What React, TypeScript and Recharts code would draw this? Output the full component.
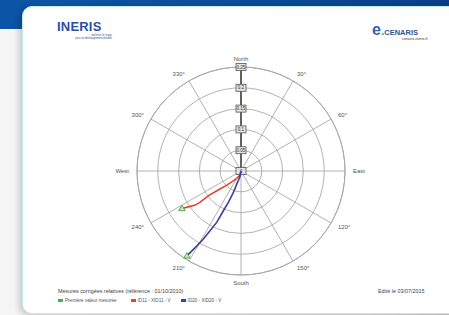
import React from 'react';
import {
  RadarChart, Radar, PolarGrid, PolarAngleAxis, PolarRadiusAxis,
  ScatterChart, Scatter, XAxis, YAxis,
} from 'recharts';

// compass directions, clockwise from north
const directions = ['North', '30°', '60°', 'East', '120°', '150°', 'South', '210°', '240°', 'West', '300°', '330°'];
const radiusTicks = [0, 0.05, 0.1, 0.15, 0.2, 0.25];

// relative displacement (east, north) for each point
const id11East = [0, -0.003, -0.014, -0.034, -0.054, -0.078, -0.098, -0.110, -0.122, -0.142];
const id11North = [0, -0.011, -0.021, -0.034, -0.045, -0.059, -0.075, -0.082, -0.085, -0.090];
const id20East = [0, -0.003, -0.010, -0.018, -0.030, -0.042, -0.058, -0.074, -0.090, -0.106, -0.118, -0.130];
const id20North = [0, -0.015, -0.031, -0.051, -0.075, -0.095, -0.123, -0.143, -0.163, -0.180, -0.192, -0.204];

const W = 449;
const H = 315;
const CX = 241;
const CY = 171;
const R = 104;
const FONT = '"Liberation Sans", Arial, sans-serif';

const gridData = directions.map((d) => ({ dir: d, zero: 0 }));
const id11 = id11East.map((e, i) => ({ x: e, y: id11North[i] }));
const id20 = id20East.map((e, i) => ({ x: e, y: id20North[i] }));
const firstValues = [id11[id11.length - 1], id20[id20.length - 1]];

const labelFor = (v: number) => (v === 0 ? '0' : String(v));

function RadiusTick(props: any) {
  const { x, y, payload } = props;
  return (
    <g>
      <rect x={x - 5} y={y - 3.5} width={10} height={7} fill="#e4e4e4" stroke="#555" strokeWidth={0.8} />
      <text x={x} y={y + 1.6} textAnchor="middle" fontSize={4.5} fill="#333" fontFamily={FONT}>
        {labelFor(payload.value)}
      </text>
    </g>
  );
}

function AngleTick(props: any) {
  const { x, y, payload, textAnchor } = props;
  return (
    <text x={x} y={y} dy={2} textAnchor={textAnchor} fontSize={6} fill="#555" fontFamily={FONT}>
      {payload.value}
    </text>
  );
}

function NoDot() {
  return <g />;
}

function Triangle(props: any) {
  const { cx, cy } = props;
  const s = 3.2;
  return (
    <polygon points={`${cx},${cy - s} ${cx - s},${cy + s * 0.7} ${cx + s},${cy + s * 0.7}`}
      fill="#c5ebb8" stroke="#3f9e3a" strokeWidth={0.9} />
  );
}

export default function App() {
  return (
    <div style={{ position: 'fixed', left: 0, top: 0, width: W, height: H, overflow: 'hidden', fontFamily: FONT,
      background: 'linear-gradient(90deg, #f6f6f6 0%, #e2e2e2 80%, #cfcfcf 100%)' }}>
      {/* blue band */}
      <div style={{ position: 'absolute', left: 0, top: 0, width: W, height: 29,
        background: 'linear-gradient(90deg, #0c55a6 0%, #0b4c98 50%, #0a3f85 100%)' }} />
      {/* card */}
      <div style={{ position: 'absolute', left: 22, top: 6, width: 440, height: 306, background: '#fff',
        borderRadius: 10, border: '1px solid #c6ece6', boxShadow: '-3px 2px 6px rgba(0,0,0,0.18)' }} />

      {/* logos */}
      <div style={{ position: 'absolute', left: 57, top: 20, color: '#2c4f9e', fontWeight: 900, fontSize: 13, letterSpacing: 0.2, lineHeight: '13px' }}>
        INERIS
      </div>
      <div style={{ position: 'absolute', left: 66, top: 34, width: 46, color: '#2c4f9e', fontSize: 2.6, lineHeight: '3px', textAlign: 'right' }}>
        maîtriser le risque<br />pour un développement durable
      </div>
      <div style={{ position: 'absolute', left: 372, top: 23, color: '#3b5fb5', lineHeight: '14px' }}>
        <span style={{ fontSize: 16, fontWeight: 700 }}>e</span>
        <span style={{ color: '#45b649', fontSize: 12, fontWeight: 900 }}>.</span>
        <span style={{ fontSize: 7.5, fontWeight: 700, color: '#3a4f8e' }}>CENARIS</span>
      </div>
      <div style={{ position: 'absolute', left: 402, top: 37, color: '#333', fontSize: 3.8 }}>cenaris.ineris.fr</div>

      {/* polar grid */}
      <div style={{ position: 'absolute', left: 0, top: 0 }}>
        <RadarChart width={W} height={H} data={gridData} cx={CX} cy={CY} outerRadius={R}>
          <PolarGrid gridType="circle" stroke="#a9a9a9" strokeWidth={0.9} />
          <PolarAngleAxis dataKey="dir" tickLine={false} axisLineType="circle" stroke="#a9a9a9" tick={<AngleTick />} />
          <PolarRadiusAxis angle={90} domain={[0, 0.25]} tickCount={6} ticks={radiusTicks as any}
            axisLine={{ stroke: '#444', strokeWidth: 1.6 }} tickLine={false} tick={<RadiusTick />} />
          <Radar dataKey="zero" stroke="none" fill="none" isAnimationActive={false} />
        </RadarChart>
      </div>

      {/* displacement tracks */}
      <div style={{ position: 'absolute', left: 0, top: 0 }}>
        <ScatterChart width={W} height={H}
          margin={{ left: CX - R, right: W - CX - R, top: CY - R, bottom: H - CY - R }}>
          <XAxis type="number" dataKey="x" domain={[-0.25, 0.25]} hide allowDataOverflow />
          <YAxis type="number" dataKey="y" domain={[-0.25, 0.25]} hide allowDataOverflow />
          <Scatter name="ID11" data={id11} line={{ stroke: '#e2452b', strokeWidth: 1.6 }} shape={<NoDot />} isAnimationActive={false} />
          <Scatter name="ID20" data={id20} line={{ stroke: '#3b3f9f', strokeWidth: 1.6 }} shape={<NoDot />} isAnimationActive={false} />
          <Scatter name="Première valeur mesurée" data={firstValues} shape={<Triangle />} isAnimationActive={false} />
        </ScatterChart>
      </div>

      {/* footer */}
      <div style={{ position: 'absolute', left: 58, top: 288, fontSize: 5.4, color: '#444' }}>
        Mesures corrigées relatives (référence : 01/10/2010)
      </div>
      <div style={{ position: 'absolute', left: 378, top: 288, fontSize: 5.4, color: '#444' }}>Edité le 03/07/2015</div>
      <div style={{ position: 'absolute', left: 58, top: 298, fontSize: 4.6, color: '#555', display: 'flex', alignItems: 'center' }}>
        <span style={{ width: 5, height: 3, background: '#4caf50', display: 'inline-block', marginRight: 2 }} />
        <span style={{ marginRight: 14 }}>Première valeur mesurée</span>
        <span style={{ width: 5, height: 3, background: '#e2452b', display: 'inline-block', marginRight: 2 }} />
        <span style={{ marginRight: 10 }}>ID11 - XID11 - V</span>
        <span style={{ width: 5, height: 3, background: '#3b3f9f', display: 'inline-block', marginRight: 2 }} />
        <span>ID20 - XID20 - V</span>
      </div>
    </div>
  );
}
